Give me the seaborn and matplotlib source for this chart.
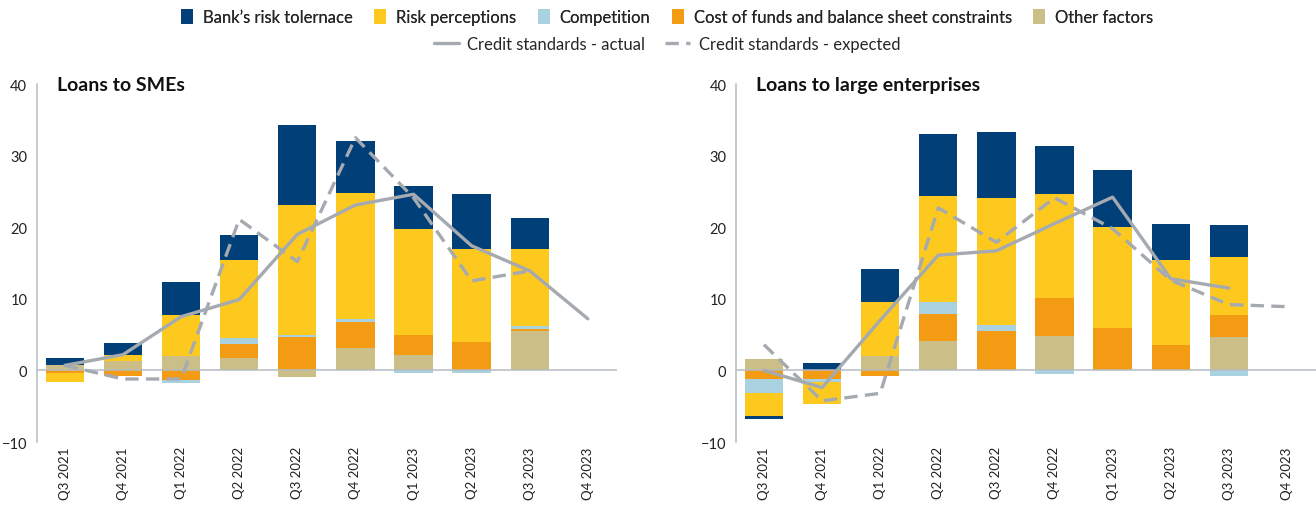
import numpy as np
import pandas as pd
import seaborn as sns
import matplotlib.pyplot as plt
from matplotlib.patches import Patch
from matplotlib.lines import Line2D

quarters = ["Q3 2021", "Q4 2021", "Q1 2022", "Q2 2022", "Q3 2022",
            "Q4 2022", "Q1 2023", "Q2 2023", "Q3 2023", "Q4 2023"]

# stacking order from the zero line outwards
factor_names = ["Other factors", "Cost of funds and balance sheet constraints",
                "Competition", "Risk perceptions", "Bank\u2019s risk tolernace"]
factor_colors = ["#cbbe87", "#f39b13", "#a9d1df", "#fdc91f", "#003f77"]

# Loans to SMEs
sme_other = [0.7, 1.25, 2.0, 1.7, -0.9, 3.1, 2.2, 0.0, 5.5, 0]
sme_cost = [-0.4, -0.8, -1.4, 2.0, 4.6, 3.6, 2.7, 3.9, 0.3, 0]
sme_comp = [0.0, 0.0, -0.4, 0.8, 0.4, 0.5, -0.4, -0.4, 0.4, 0]
sme_risk = [-1.2, 0.95, 5.7, 10.9, 18.1, 17.6, 14.8, 13.1, 10.8, 0]
sme_toler = [1.0, 1.6, 4.6, 3.5, 11.2, 7.3, 6.0, 7.6, 4.3, 0]
sme_actual = [0.7, 2.2, 7.5, 9.9, 19.0, 23.1, 24.6, 17.4, 13.9, 7.2]
sme_expected = [0.7, -1.2, -1.2, 21.1, 15.2, 32.5, 24.1, 12.5, 13.9, np.nan]

# Loans to large enterprises
large_other = [1.55, 0.0, 2.0, 4.05, 0.0, 4.75, 0.0, 0.0, 4.6, 0]
large_cost = [-1.2, -1.2, -0.8, 3.8, 5.45, 5.3, 5.9, 3.5, 3.2, 0]
large_comp = [-1.9, -0.45, 0.0, 1.7, 0.9, -0.55, 0.0, 0.0, -0.8, 0]
large_risk = [-3.3, -3.1, 7.55, 14.8, 17.7, 14.55, 14.1, 11.9, 8.0, 0]
large_toler = [-0.4, 1.0, 4.6, 8.7, 9.2, 6.7, 8.0, 5.0, 4.5, 0]
large_actual = [0.0, -2.4, 7.0, 16.1, 16.7, 20.5, 24.2, 12.8, 11.5, np.nan]
large_expected = [3.6, -4.25, -3.2, 22.7, 17.9, 24.1, 19.8, 12.6, 9.2, 8.9]

LINE_COLOR = "#a5aab0"
AXIS_COLOR = "#b5bcc3"
TEXT_COLOR = "#222222"
DASH = (0, (4, 2.2))


def draw_panel(ax, title, layers, actual, expected):
    x = np.arange(len(quarters))
    pos_base = np.zeros(len(quarters))
    neg_base = np.zeros(len(quarters))
    for vals, color in zip(layers, factor_colors):
        vals = np.asarray(vals, dtype=float)
        base = np.where(vals >= 0, pos_base, neg_base)
        ax.bar(x, vals, bottom=base, width=0.66, color=color, linewidth=0, zorder=2)
        pos_base += np.clip(vals, 0, None)
        neg_base += np.clip(vals, None, 0)

    df = pd.DataFrame({"x": x, "actual": actual, "expected": expected})
    sns.lineplot(data=df, x="x", y="actual", ax=ax, color=LINE_COLOR,
                 lw=2.4, zorder=4, legend=False)
    sns.lineplot(data=df, x="x", y="expected", ax=ax, color=LINE_COLOR,
                 lw=2.4, linestyle=DASH, zorder=4, legend=False)

    ax.axhline(0, color=AXIS_COLOR, lw=1.1, zorder=3)
    ax.set_xlim(-0.48, 9.5)
    ax.set_ylim(-10, 40)
    ax.set_yticks([-10, 0, 10, 20, 30, 40])
    ax.set_xticks(x)
    ax.set_xticklabels(quarters, rotation=90, fontsize=9.5, color=TEXT_COLOR)
    ax.tick_params(axis="y", length=0, pad=7, labelsize=10.5, labelcolor=TEXT_COLOR)
    ax.tick_params(axis="x", length=0, pad=3)
    ax.set_xlabel("")
    ax.set_ylabel("")
    sns.despine(ax=ax, top=True, right=True, bottom=True)
    ax.spines["left"].set_color(AXIS_COLOR)
    ax.spines["left"].set_linewidth(1.1)
    ax.text(-0.135, 40, title, fontsize=14, fontweight="bold",
            color="#111111", va="center", ha="left")


sns.set_theme(style="white")
plt.rcParams["font.family"] = ["Lato", "DejaVu Sans"]

fig = plt.figure(figsize=(13.16, 5.06), dpi=100)
ax1 = fig.add_axes([0.0281, 0.1245, 0.4407, 0.7075])
ax2 = fig.add_axes([0.5593, 0.1245, 0.4407, 0.7075])

draw_panel(ax1, "Loans to SMEs",
           [sme_other, sme_cost, sme_comp, sme_risk, sme_toler],
           sme_actual, sme_expected)
draw_panel(ax2, "Loans to large enterprises",
           [large_other, large_cost, large_comp, large_risk, large_toler],
           large_actual, large_expected)

# legend: factors on the first row (reverse order like the reference), lines on the second
order = [4, 3, 2, 1, 0]
patch_handles = [Patch(facecolor=factor_colors[i], edgecolor="none") for i in order]
patch_labels = [factor_names[i] for i in order]
leg1 = fig.legend(patch_handles, patch_labels, loc="center", bbox_to_anchor=(0.507, 0.964),
                  ncol=5, frameon=False, fontsize=12, handlelength=0.7, handleheight=1.0,
                  handletextpad=0.6, columnspacing=1.3)
line_handles = [Line2D([], [], color=LINE_COLOR, lw=2.4),
                Line2D([], [], color=LINE_COLOR, lw=2.4, linestyle=DASH)]
fig.legend(line_handles, ["Credit standards - actual", "Credit standards - expected"],
           loc="center", bbox_to_anchor=(0.507, 0.911), ncol=2, frameon=False,
           fontsize=12, handlelength=1.5, handletextpad=0.5, columnspacing=1.2)
fig.add_artist(leg1)

fig.savefig("out.png", dpi=100)
